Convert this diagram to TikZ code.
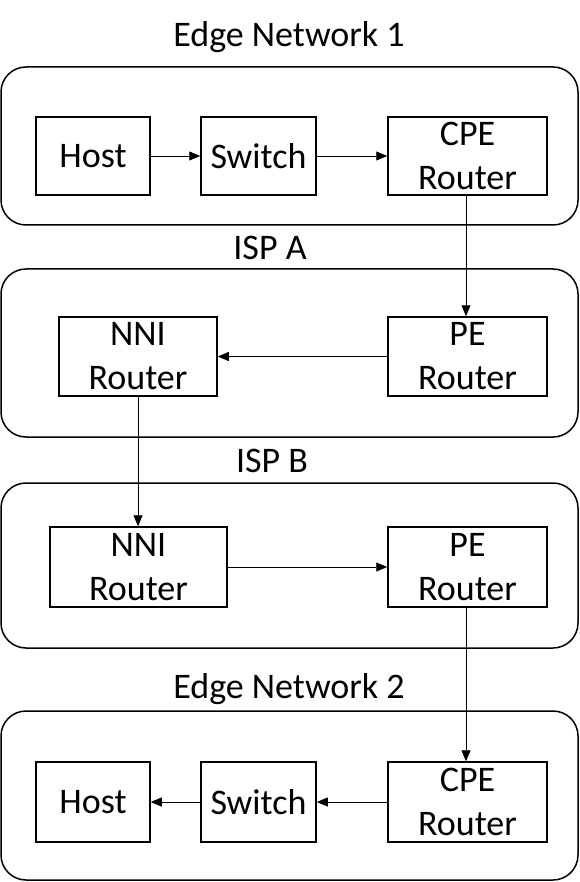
\documentclass[tikz,border=0pt]{standalone}
\usepackage{fontspec}
\setmainfont{Carlito}
\usetikzlibrary{arrows.meta}
\begin{document}
\begin{tikzpicture}[x=1pt,y=-1pt,
  box/.style={draw=black,line width=1.5pt,inner sep=0pt,align=center,
    font=\fontsize{36}{44}\selectfont},
  cont/.style={draw=black,line width=1.5pt,rounded corners=25pt},
  lab/.style={font=\fontsize{36}{44}\selectfont,inner sep=0pt},
  arr/.style={line width=0.8pt,-{Triangle[length=11pt,width=9pt]}}]
\useasboundingbox (0,0) rectangle (579,882);
% containers
\draw[cont] (1,67) rectangle (578,225);
\draw[cont] (1,269) rectangle (578,437);
\draw[cont] (1,483) rectangle (578,648);
\draw[cont] (1,711) rectangle (578,880);
% labels
\node[lab] (l1) at (289,37) {Edge Network 1};
\node[lab] (l2) at (270,248) {ISP A};
\node[lab] (l3) at (272,461) {ISP B};
\node[lab] (l4) at (289,689) {Edge Network 2};
% edge network 1
\node[box,minimum width=114pt,minimum height=78pt] (h1) at (93,156) {Host};
\node[box,minimum width=115pt,minimum height=78pt] (s1) at (258.5,156) {Switch};
\node[box,minimum width=159pt,minimum height=78pt] (c1) at (467.5,156) {CPE\\Router};
% ISP A
\node[box,minimum width=158pt,minimum height=79pt] (na) at (138,356.5) {NNI\\Router};
\node[box,minimum width=159pt,minimum height=79pt] (pa) at (467.5,356.5) {PE\\Router};
% ISP B
\node[box,minimum width=177pt,minimum height=80pt] (nb) at (138.5,567) {NNI\\Router};
\node[box,minimum width=159pt,minimum height=80pt] (pb) at (467.5,567) {PE\\Router};
% edge network 2
\node[box,minimum width=114pt,minimum height=80pt] (h2) at (93,802) {Host};
\node[box,minimum width=115pt,minimum height=80pt] (s2) at (258.5,802) {Switch};
\node[box,minimum width=159pt,minimum height=80pt] (c2) at (467.5,802) {CPE\\Router};
% arrows
\draw[arr] (h1.east) -- (s1.west);
\draw[arr] (s1.east) -- (c1.west);
\draw[arr] ([xshift=-1.5pt]c1.south) -- ([xshift=-1.5pt]pa.north);
\draw[arr] (pa.west) -- (na.east);
\draw[arr] (na.south) -- (na.south |- nb.north);
\draw[arr] (nb.east) -- (pb.west);
\draw[arr] ([xshift=-1.5pt]pb.south) -- ([xshift=-1.5pt]c2.north);
\draw[arr] (c2.west) -- (s2.east);
\draw[arr] (s2.west) -- (h2.east);
\end{tikzpicture}
\end{document}
